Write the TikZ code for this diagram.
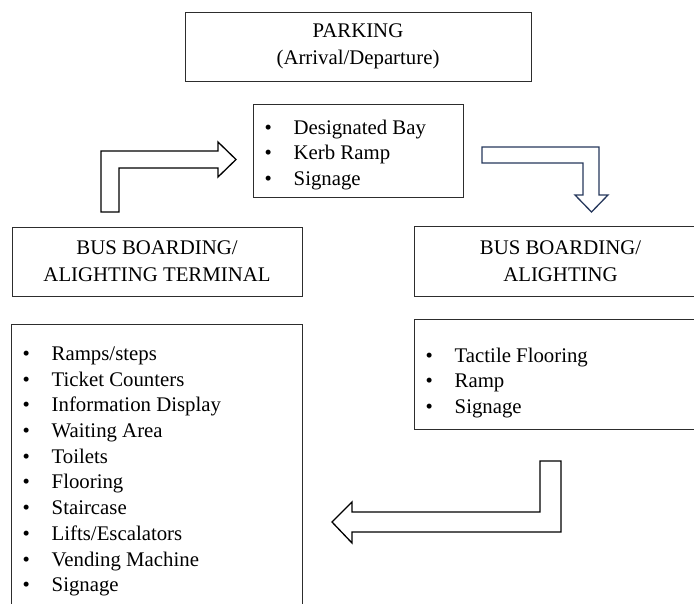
\documentclass[tikz,border=0pt]{standalone}
\usepackage{fontspec}
\setmainfont{Liberation Serif}
\usetikzlibrary{positioning}
\definecolor{arrowblue}{RGB}{38,56,92}
\definecolor{boxgray}{RGB}{45,45,45}
\newcommand{\bul}{\makebox[29pt][l]{\textbullet}}

\tikzset{
  frame/.style={draw=boxgray, line width=1pt, inner sep=0pt},
  headbox/.style={frame, align=center, font=\fontsize{20.8}{27}\selectfont},
  itemtext/.style={inner sep=0pt, align=left, anchor=north west, font=\fontsize{20.8}{25.7}\selectfont},
  blockarrow/.style={draw=black, line width=1.3pt, fill=white, line join=miter}
}

\begin{document}
\begin{tikzpicture}[x=1pt, y=-1pt]
    \clip (0,0) rectangle (694,603);
    % headers
    \node[headbox, minimum width=346pt, minimum height=69pt] (parking) at (358,46.5) {PARKING\\(Arrival/Departure)};
    \node[headbox, minimum width=290pt, minimum height=69pt] (terminal) at (157,261.5) {BUS BOARDING/\\ALIGHTING TERMINAL};
    \node[headbox, minimum width=293pt, minimum height=70pt] (boarding) at (560.5,261) {BUS BOARDING/\\ALIGHTING};
    % lists
    \node[frame, minimum width=210pt, minimum height=93pt] (bay) at (358,150.5) {};
    \node[itemtext] (baytext) at ([xshift=12pt, yshift=-16pt]bay.north west)
        {\bul Designated Bay\\\bul Kerb Ramp\\\bul Signage};
    \node[frame, minimum width=293pt, minimum height=110pt] (tactile) at (560.5,374) {};
    \node[itemtext] (tactiletext) at ([xshift=12pt, yshift=-29pt]tactile.north west)
        {\bul Tactile Flooring\\\bul Ramp\\\bul Signage};
    \node[frame, minimum width=291pt, minimum height=296pt] (facilities) at (156.5,472) {};
    \node[itemtext] (facilitiestext) at ([xshift=12pt, yshift=-23pt]facilities.north west)
        {\bul Ramps/steps\\\bul Ticket Counters\\\bul Information Display\\\bul Waiting Area\\\bul Toilets\\
         \bul Flooring\\\bul Staircase\\\bul Lifts/Escalators\\\bul Vending Machine\\\bul Signage};
    % block arrows
    \draw[blockarrow] (101,212) -- (101,151) -- (218,151) -- (218,142) -- (236,159.5) -- (218,177)
        -- (218,168) -- (119,168) -- (119,212) -- cycle;
    \draw[blockarrow, draw=arrowblue] (482,147) -- (599,147) -- (599,195) -- (608,195) -- (591.5,212)
        -- (575,195) -- (583,195) -- (583,163) -- (482,163) -- cycle;
    \draw[blockarrow] (540,461) -- (561,461) -- (561,532) -- (352,532) -- (352,543) -- (332,522)
        -- (352,502) -- (352,512) -- (540,512) -- cycle;
\end{tikzpicture}
\end{document}
